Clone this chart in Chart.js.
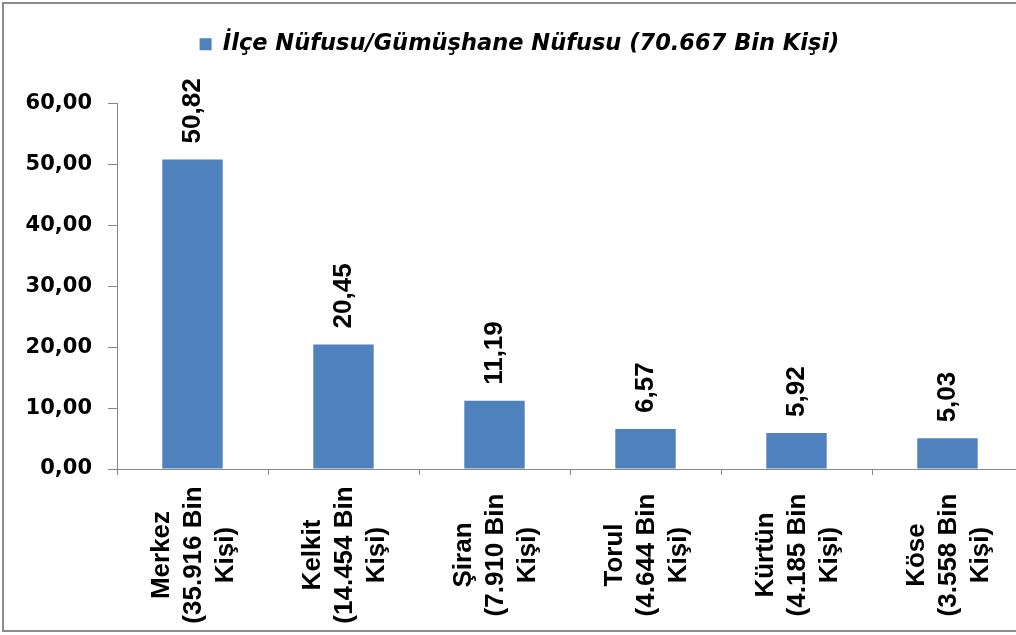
<!DOCTYPE html>
<html>
<head>
<meta charset="utf-8">
<script src="https://cdn.jsdelivr.net/npm/chart.js@4.4.0/dist/chart.umd.min.js"></script>
<style>
    html, body { margin: 0; padding: 0; background: #fff; overflow: hidden; }
    #frame { position: absolute; left: 2px; top: 2px; width: 1060px; height: 626px; border: 2px solid #8c8c8c; }
    #newchart { display: block; }
</style>
</head>
<body>
<div id="frame"><canvas id="newchart" width="1040" height="626"></canvas></div>
<script>
// district shares of Gümüşhane population (%)
var districts = ["Merkez", "Kelkit", "Şiran", "Torul", "Kürtün", "Köse"];
var populations = ["35.916", "14.454", "7.910", "4.644", "4.185", "3.558"];
var shares = [50.82, 20.45, 11.19, 6.57, 5.92, 5.03];
var yTicks = [0, 10, 20, 30, 40, 50, 60];
var seriesName = "İlçe Nüfusu/Gümüşhane Nüfusu (70.667 Bin Kişi)";

function trNumber(v) {
    return v.toFixed(2).replace('.', ',');
}

// value above each bar, rotated
var valueLabels = {
    id: 'valueLabels',
    afterDatasetsDraw: function (chart) {
        var ctx = chart.ctx;
        var meta = chart.getDatasetMeta(0);
        ctx.save();
        ctx.font = 'bold 26px "Liberation Sans"';
        ctx.fillStyle = '#000';
        ctx.textAlign = 'left';
        ctx.textBaseline = 'middle';
        meta.data.forEach(function (bar, i) {
            ctx.save();
            ctx.translate(bar.x, bar.y - 16);
            ctx.rotate(-Math.PI / 2);
            ctx.fillText(trNumber(shares[i]), 0, 0);
            ctx.restore();
        });
        ctx.restore();
    }
};

// three line district names under the axis, centered
var categoryLabels = {
    id: 'categoryLabels',
    afterDraw: function (chart) {
        var ctx = chart.ctx;
        var xs = chart.scales.x;
        ctx.save();
        ctx.font = 'bold 26px "Liberation Sans"';
        ctx.fillStyle = '#000';
        ctx.textAlign = 'center';
        ctx.textBaseline = 'middle';
        districts.forEach(function (name, i) {
            var lines = [name, '(' + populations[i] + ' Bin', 'Kişi)'];
            var cx = xs.getPixelForTick(i) + 1.5;
            lines.forEach(function (line, j) {
                ctx.save();
                ctx.translate(cx + (j - 1) * 32, 551);
                ctx.rotate(-Math.PI / 2);
                ctx.fillText(line, 0, 0);
                ctx.restore();
            });
        });
        ctx.restore();
    }
};

// extra room between legend and plot
var legendSpace = {
    id: 'legendSpace',
    beforeInit: function (chart) {
        var fitValue = chart.legend.fit;
        chart.legend.fit = function fit() {
            fitValue.bind(chart.legend)();
            this.height += 38;
        };
    }
};

var canvasElement = document.getElementById("newchart");
var config = {
    type: "bar",
    data: {
        labels: districts,
        datasets: [{
            label: seriesName,
            data: shares,
            backgroundColor: "#4F81BD",
            barPercentage: 0.4,
            categoryPercentage: 1
        }]
    },
    options: {
        responsive: false,
        animation: false,
        layout: {
            padding: { top: 19, left: 12, right: 21, bottom: 0 }
        },
        plugins: {
            legend: {
                position: 'top',
                align: 'center',
                labels: {
                    color: '#000',
                    boxWidth: 12,
                    boxHeight: 12,
                    padding: 10,
                    font: {
                        family: 'DejaVu Sans',
                        size: 22.5,
                        weight: 'bold',
                        style: 'italic'
                    }
                }
            },
            tooltip: { enabled: false }
        },
        scales: {
            x: {
                grid: {
                    offset: true,
                    drawOnChartArea: false,
                    tickLength: 6,
                    color: '#868686'
                },
                border: { color: '#868686', width: 1 },
                ticks: { display: false },
                afterFit: function (scale) { scale.height = 161; }
            },
            y: {
                min: 0,
                max: 60,
                afterBuildTicks: function (scale) {
                    scale.ticks = yTicks.map(function (v) { return { value: v }; });
                },
                grid: {
                    drawOnChartArea: false,
                    tickLength: 9,
                    color: '#868686'
                },
                border: { color: '#868686', width: 1 },
                ticks: {
                    color: '#000',
                    padding: 16,
                    font: { family: 'DejaVu Sans', size: 21, weight: 'bold' },
                    callback: function (v) { return trNumber(v); }
                },
                afterFit: function (scale) { scale.width = 101; }
            }
        }
    },
    plugins: [valueLabels, categoryLabels, legendSpace]
};
var newchart = new Chart(canvasElement, config);
</script>
</body>
</html>
